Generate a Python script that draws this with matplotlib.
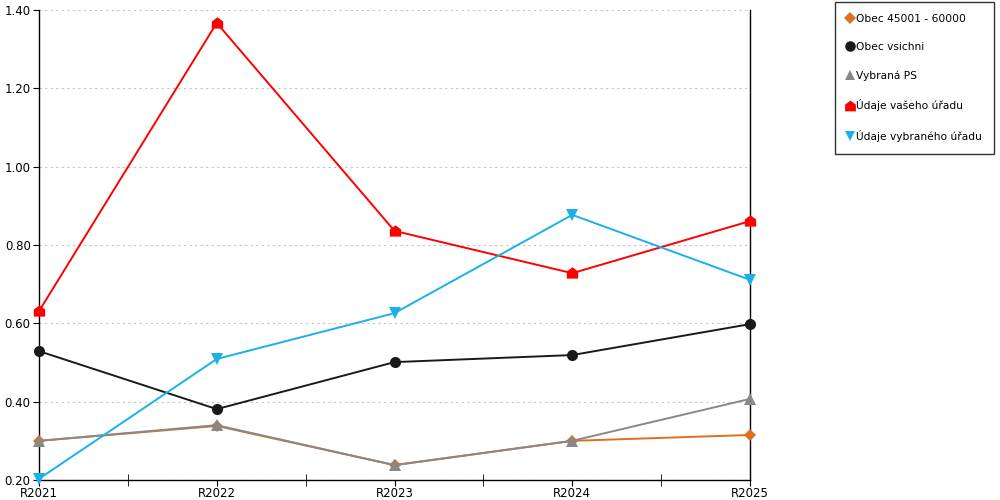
import matplotlib.pyplot as plt
import numpy as np
from matplotlib.path import Path

years = ["R2021", "R2022", "R2023", "R2024", "R2025"]

obec_45001 = [0.300, 0.338, 0.238, 0.300, 0.315]
obec_vsichni = [0.529, 0.381, 0.501, 0.519, 0.598]
vybrana_ps = [0.300, 0.340, 0.238, 0.300, 0.407]
vas_urad = [0.631, 1.367, 0.836, 0.728, 0.861]
vybrany_urad = [0.203, 0.509, 0.626, 0.877, 0.711]

# house shaped marker (square with roof)
house = Path([(-1, -0.9), (1, -0.9), (1, 0.35), (0, 1.1), (-1, 0.35), (-1, -0.9)],
             [Path.MOVETO, Path.LINETO, Path.LINETO, Path.LINETO, Path.LINETO, Path.CLOSEPOLY])

plt.rcParams['font.family'] = ['DejaVu Sans']

fig = plt.figure(figsize=(10, 5), dpi=100)
ax = fig.add_axes([0.039, 0.04, 0.711, 0.94])

x = np.arange(len(years))

series = [
    (obec_45001, "Obec 45001 - 60000", "#E0701E", "D", 6),
    (obec_vsichni, "Obec vsichni", "#1a1a1a", "o", 8),
    (vybrana_ps, "Vybraná PS", "#888888", "^", 8),
    (vas_urad, "Údaje vašeho úřadu", "#FF0000", house, 9),
    (vybrany_urad, "Údaje vybraného úřadu", "#1AB0E8", "v", 8),
]

handles = []
for vals, name, col, mk, ms in series:
    ax.plot(x, vals, color=col, lw=1.4, marker=mk, markersize=ms,
            markeredgewidth=0, clip_on=False, zorder=3)
    h, = ax.plot([], [], ls="none", color=col, marker=mk, markersize=ms * 0.95,
                 markeredgewidth=0)
    handles.append((h, name))

ax.set_xlim(0, 4)
ax.set_ylim(0.2, 1.4)
ax.set_yticks(np.arange(0.2, 1.41, 0.2))
ax.set_yticklabels(["%.2f" % v for v in np.arange(0.2, 1.41, 0.2)], fontsize=8.5)
ax.set_xticks(x)
ax.set_xticklabels(years, fontsize=8.5)
ax.set_xticks(x[:-1] + 0.5, minor=True)
ax.tick_params(axis="x", which="major", direction="out", length=4, pad=1)
ax.tick_params(axis="x", which="minor", direction="inout", length=8)
ax.tick_params(axis="y", direction="out", length=4, pad=2)

ax.grid(axis="y", color="#c4c4c4", ls=(0, (2, 3)), lw=0.8)
ax.set_axisbelow(True)
ax.spines["top"].set_visible(False)
for s in ["left", "right", "bottom"]:
    ax.spines[s].set_color("black")
    ax.spines[s].set_linewidth(1)

leg = fig.legend([h for h, n in handles], [n for h, n in handles],
                 loc="upper left", bbox_to_anchor=(0.835, 0.996),
                 fontsize=7.7, frameon=True, fancybox=False, edgecolor="black",
                 handlelength=0.6, handletextpad=0.3, labelspacing=1.72,
                 borderpad=1.1, borderaxespad=0)
leg.get_frame().set_linewidth(1)

plt.savefig("out.png")
